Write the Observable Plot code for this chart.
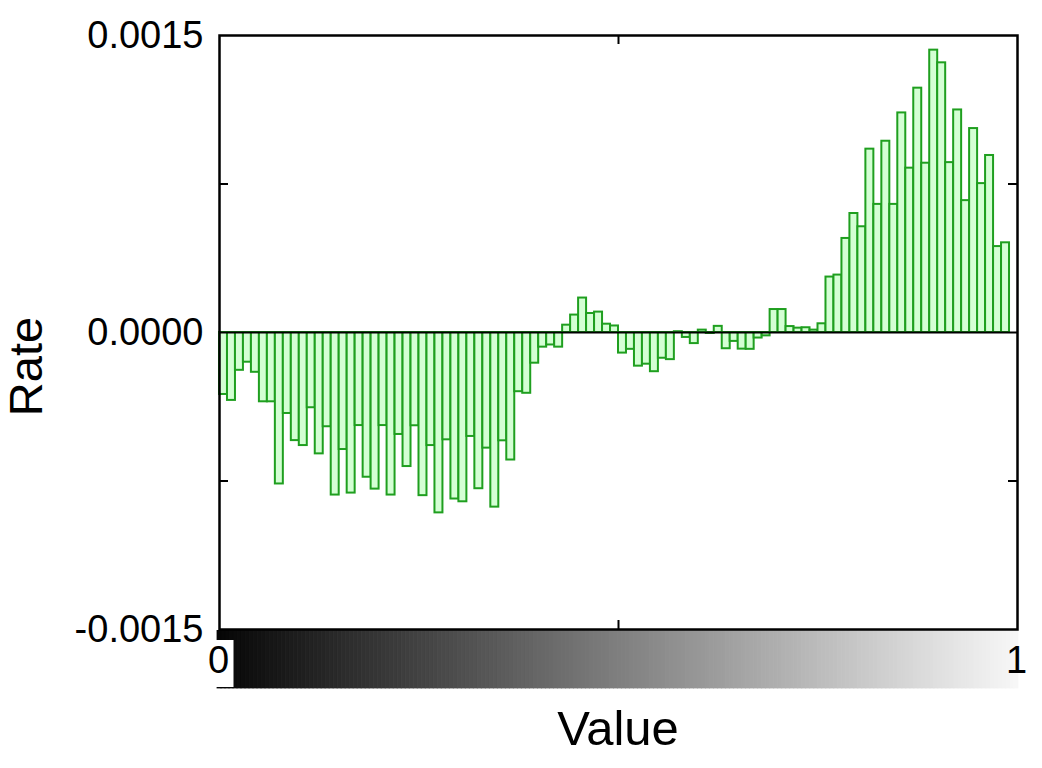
<!DOCTYPE html>
<html>
<head>
<meta charset="utf-8">
<script src="https://cdn.jsdelivr.net/npm/d3@7"></script>
<script src="https://cdn.jsdelivr.net/npm/@observablehq/plot@0.6"></script>
<style>
  html, body { margin: 0; padding: 0; background: #fff; }
  #chart svg { display: block; }
  #chart svg.main-plot { position: relative; z-index: 1; overflow: visible; }
</style>
</head>
<body>
<div id="chart"></div>
<script>
// ---- data ----
const binWidth = 0.01;
const binStarts = d3.range(99).map(i => i / 100);
const rates = [
  -0.000313, -0.000343, -0.000191, -0.000150, -0.000201, -0.000350, -0.000350, -0.000765, -0.000409, -0.000546,
  -0.000571, -0.000380, -0.000613, -0.000476, -0.000821, -0.000591, -0.000811, -0.000470, -0.000731, -0.000791,
  -0.000470, -0.000821, -0.000515, -0.000677, -0.000471, -0.000824, -0.000571, -0.000911, -0.000542, -0.000841,
  -0.000855, -0.000525, -0.000789, -0.000584, -0.000882, -0.000547, -0.000644, -0.000299, -0.000307, -0.000155,
  -0.000074, -0.000063, -0.000074,  0.000037,  0.000088,  0.000174,  0.000096,  0.000103,  0.000042,  0.000033,
  -0.000104, -0.000085, -0.000170, -0.000160, -0.000198, -0.000130, -0.000137,  0.000004, -0.000025, -0.000056,
   0.000012, -0.000005,  0.000031, -0.000082, -0.000045, -0.000084, -0.000085, -0.000028, -0.000017,  0.000116,
   0.000116,  0.000030,  0.000022,  0.000024,  0.000012,  0.000044,  0.000280,  0.000290,  0.000475,  0.000601,
   0.000534,  0.000926,  0.000647,  0.000966,  0.000647,  0.001109,  0.000830,  0.001234,  0.000855,  0.001426,
   0.001362,  0.000858,  0.001124,  0.000666,  0.001030,  0.000752,  0.000894,  0.000434,  0.000453
];
const yLabeledTicks = [-0.0015, 0, 0.0015];
const yMinorTicks = [-0.00075, 0.00075];
const xMinorTicks = [0.5];
const colorbarLabels = [0, 1];
const xTitle = "Value";
const yTitle = "Rate";

const data = binStarts.map((x, i) => ({x0: x, x1: x + binWidth, rate: rates[i]}));

const font = "'Liberation Sans', Arial, Helvetica, sans-serif";
const W = 1042, mL = 219, mR = 25, mT = 35;
const innerW = W - mL - mR;       // 798
const mainH = 630, mB = 1;
const innerH = mainH - mT - mB;   // 594
const tickLen = 9;

const main = Plot.plot({
  className: "main-plot",
  width: W,
  height: mainH,
  marginLeft: mL,
  marginRight: mR,
  marginTop: mT,
  marginBottom: mB,
  style: {fontFamily: font, fontSize: "38px", color: "black", background: "white", overflow: "visible"},
  x: {domain: [0, 1], axis: null},
  y: {domain: [-0.0015, 0.0015], axis: null},
  marks: [
    Plot.rect(data, {
      x1: "x0", x2: "x1", y1: 0, y2: "rate",
      fill: "#d4ffd4", stroke: "#1f9f1f", strokeWidth: 2
    }),
    Plot.ruleY([0], {stroke: "black", strokeWidth: 2}),
    Plot.tickY(yMinorTicks, {y: d => d, insetRight: innerW - tickLen, stroke: "black", strokeWidth: 2}),
    Plot.tickY(yMinorTicks, {y: d => d, insetLeft: innerW - tickLen, stroke: "black", strokeWidth: 2}),
    Plot.tickX(xMinorTicks, {x: d => d, insetBottom: innerH - tickLen, stroke: "black", strokeWidth: 2}),
    Plot.tickX(xMinorTicks, {x: d => d, insetTop: innerH - tickLen, stroke: "black", strokeWidth: 2}),
    Plot.frame({stroke: "black", strokeWidth: 2.5}),
    Plot.axisY({
      ticks: yLabeledTicks, tickSize: 0, tickPadding: 16,
      tickFormat: d => d.toFixed(4), fontSize: 38, label: null
    }),
    Plot.text([yTitle], {
      frameAnchor: "left", textAnchor: "middle", dx: -193, dy: 34, rotate: -90,
      fontSize: 47, fill: "black"
    })
  ]
});

// colorbar below the plot
const gradientStops = d3.range(0, 1, 1 / 200);
const cbH = 768 - mainH;  // 138
const cbInner = 58;
const colorbar = Plot.plot({
  width: W,
  height: cbH,
  marginLeft: mL - 2,
  marginRight: mR - 1,
  marginTop: 0,
  marginBottom: cbH - cbInner,
  style: {fontFamily: font, fontSize: "38px", color: "black", background: "transparent"},
  x: {domain: [0, 1], axis: null},
  y: {domain: [0, 1], axis: null},
  color: {type: "linear", domain: [0, 1], range: ["#060606", "#f8f8f8"]},
  marks: [
    Plot.rect(gradientStops, {
      x1: d => d, x2: d => d + 1 / 200, y1: 0, y2: 1,
      fill: d => d, stroke: d => d, strokeWidth: 0.8
    }),
    Plot.tickX([colorbarLabels[0]], {x: d => d, dx: 4.5, insetTop: 10, insetBottom: 1, stroke: "white", strokeWidth: 23}),
    Plot.text([colorbarLabels[0]], {x: d => d, frameAnchor: "middle", dx: 1, dy: 1, text: d => String(d), fontSize: 38, fill: "black"}),
    Plot.text([colorbarLabels[1]], {x: d => d, frameAnchor: "middle", dx: -2, dy: 1, text: d => String(d), fontSize: 38, fill: "black"}),
    Plot.text([xTitle], {frameAnchor: "bottom", dy: 56, fontSize: 49, fill: "black"})
  ]
});

const chart = document.getElementById("chart");
chart.appendChild(main);
chart.appendChild(colorbar);
</script>
</body>
</html>
